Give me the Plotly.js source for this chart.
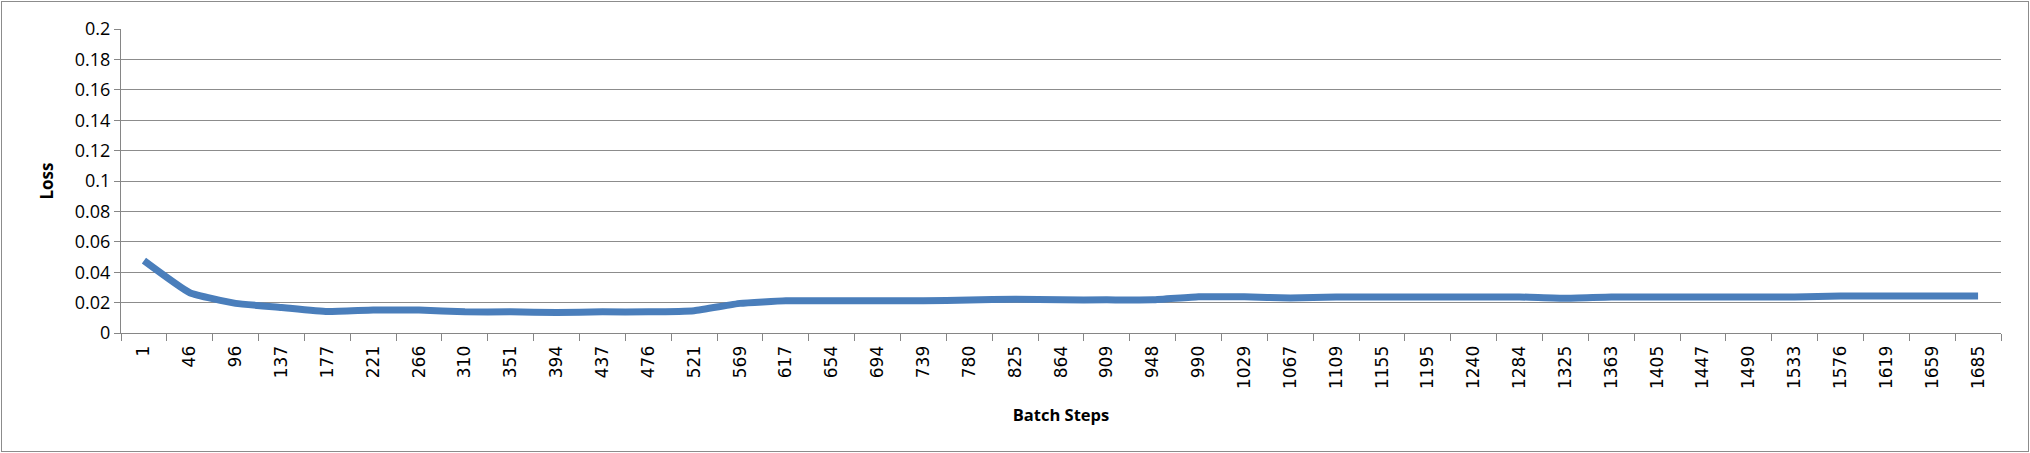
<!DOCTYPE html>
<html>
<head>
<meta charset="utf-8">
<script src="https://cdn.plot.ly/plotly-3.0.1.min.js"></script>
<style>
  html, body { margin: 0; padding: 0; background: #fff; }
  #frame { position: absolute; left: 1px; top: 1px; width: 2026px; height: 449px; border: 1px solid #8c8c8c; }
  #chart { width: 2026px; height: 449px; }
</style>
</head>
<body>
<div id="frame"><div id="chart"></div></div>
<script>
const batchSteps = ["1","46","96","137","177","221","266","310","351","394","437","476","521","569","617","654","694","739","780","825","864","909","948","990","1029","1067","1109","1155","1195","1240","1284","1325","1363","1405","1447","1490","1533","1576","1619","1659","1685"];
const loss = [0.0476,0.0265,0.0195,0.0168,0.0141,0.0151,0.0151,0.0139,0.0139,0.0135,0.0139,0.0139,0.0147,0.0195,0.0212,0.0212,0.0212,0.0212,0.0217,0.0222,0.0218,0.0218,0.0218,0.0238,0.0238,0.0231,0.0237,0.0237,0.0237,0.0237,0.0237,0.0228,0.0237,0.0237,0.0237,0.0237,0.0237,0.0243,0.0243,0.0243,0.0243];
const yTicks = [0,0.02,0.04,0.06,0.08,0.1,0.12,0.14,0.16,0.18,0.2];

const trace = {
  x: batchSteps,
  y: loss,
  type: 'scatter',
  mode: 'lines',
  line: { color: '#4a7ebb', width: 7, shape: 'spline', smoothing: 0.4 },
  hoverinfo: 'x+y'
};

const layout = {
  width: 2026,
  height: 449,
  margin: { l: 119, r: 27, t: 27, b: 118, pad: 0 },
  paper_bgcolor: '#ffffff',
  plot_bgcolor: '#ffffff',
  showlegend: false,
  xaxis: {
    type: 'category',
    range: [-0.5, batchSteps.length - 0.5],
    tickson: 'boundaries',
    ticks: 'outside',
    ticklen: 7,
    tickwidth: 1,
    tickcolor: '#868686',
    showline: true,
    linecolor: '#868686',
    linewidth: 1,
    showgrid: false,
    zeroline: false,
    tickangle: -90,
    ticklabelstandoff: 5,
    tickfont: { family: 'DejaVu Sans', size: 17, color: '#000' },
    title: { text: '<b>Batch Steps</b>', font: { family: 'Open Sans', size: 16.5, color: '#000' }, standoff: 21 }
  },
  yaxis: {
    range: [0, 0.2],
    tickvals: yTicks,
    ticktext: yTicks.map(v => String(v)),
    ticks: 'outside',
    ticklen: 6,
    tickwidth: 1,
    tickcolor: '#868686',
    showline: true,
    linecolor: '#868686',
    linewidth: 1,
    showgrid: true,
    gridcolor: '#8c8c8c',
    gridwidth: 1,
    zeroline: false,
    tickfont: { family: 'Open Sans', size: 18, color: '#000' },
    title: { text: '<b>Loss</b>', font: { family: 'Open Sans', size: 17, color: '#000' }, standoff: 16 }
  }
};

Plotly.newPlot('chart', [trace], layout, { staticPlot: true, displayModeBar: false });
</script>
</body>
</html>
